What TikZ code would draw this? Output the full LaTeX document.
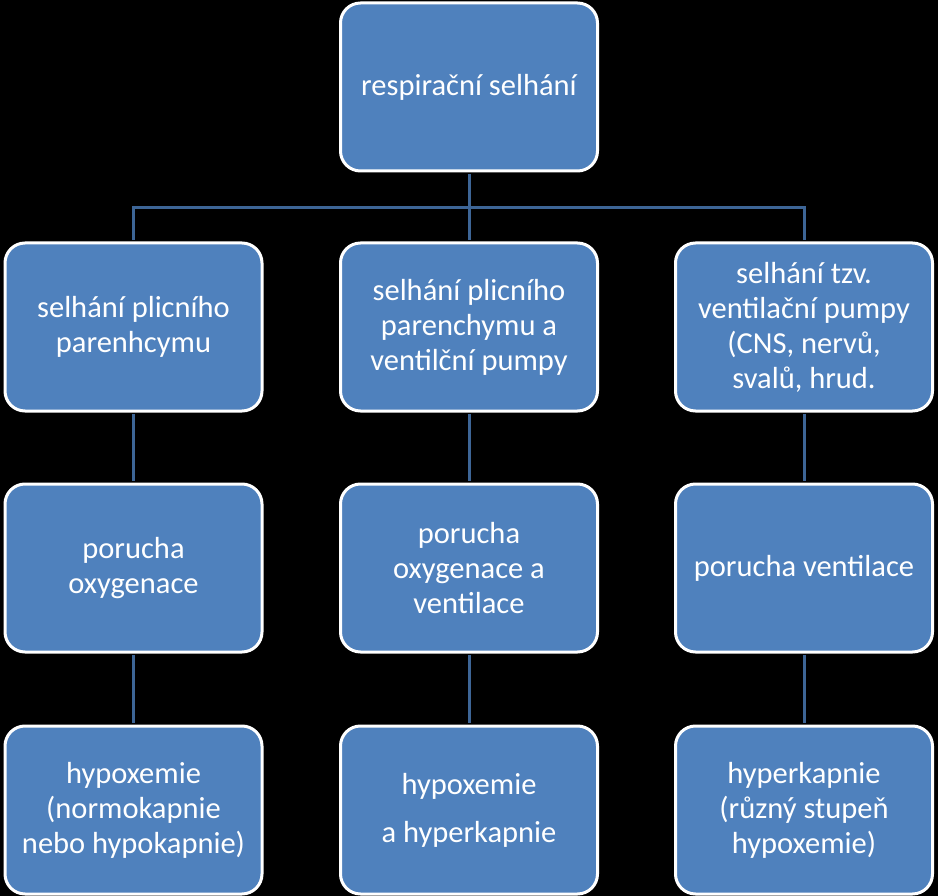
\documentclass[tikz,border=0pt]{standalone}
\usepackage{fontspec}
\setmainfont{Carlito}
\usetikzlibrary{positioning}
\definecolor{BoxBlue}{HTML}{4F81BD}
\definecolor{LinkBlue}{HTML}{3D6596}
\tikzset{
    block/.style = {draw=white, fill=BoxBlue, rectangle, rounded corners=20pt,
        line width=3pt, text=white, align=center,
        minimum height=168pt,
        minimum width=257pt,
        font=\fontsize{30.5}{35}\selectfont},
    link/.style = {draw=LinkBlue, line width=3pt,
        shorten <=1.5pt, shorten >=1.5pt}
}

\begin{document}
\begin{tikzpicture}[x=1pt, y=-1pt]
            \fill[black] (0,0) rectangle (938,896);
            % top
            \node[block] (rs) at (469,87) {respirační selhání};
            % second row
            \node[block] (sp) at (133.5,327) {selhání plicního\\parenhcymu};
            \node[block] (spv) at (469,327) {selhání plicního\\parenchymu a\\ventilční pumpy};
            \node[block] (svp) at (804,327) {selhání tzv.\\ventilační pumpy\\(CNS, nervů,\\svalů, hrud.};
            % third row
            \node[block] (po) at (133.5,568) {porucha\\oxygenace};
            \node[block] (pov) at (469,568) {porucha\\oxygenace a\\ventilace};
            \node[block] (pv) at (804,568) {porucha ventilace};
            % bottom
            \node[block] (hx) at (133.5,810) {hypoxemie\\(normokapnie\\nebo hypokapnie)};
            \node[block] (hxh) at (469,810) {hypoxemie\\[13pt]a hyperkapnie};
            \node[block] (hk) at (804,810) {hyperkapnie\\(různý stupeň\\hypoxemie)};
            \coordinate (bus) at (469,208);
            \draw[link] (rs.south) -- (spv.north);
            \draw[link] (sp.north) |- (bus) -| (svp.north);
            \draw[link] (sp) -- (po);
            \draw[link] (po) -- (hx);
            \draw[link] (spv) -- (pov);
            \draw[link] (pov) -- (hxh);
            \draw[link] (svp) -- (pv);
            \draw[link] (pv) -- (hk);
        \end{tikzpicture}
\end{document}
